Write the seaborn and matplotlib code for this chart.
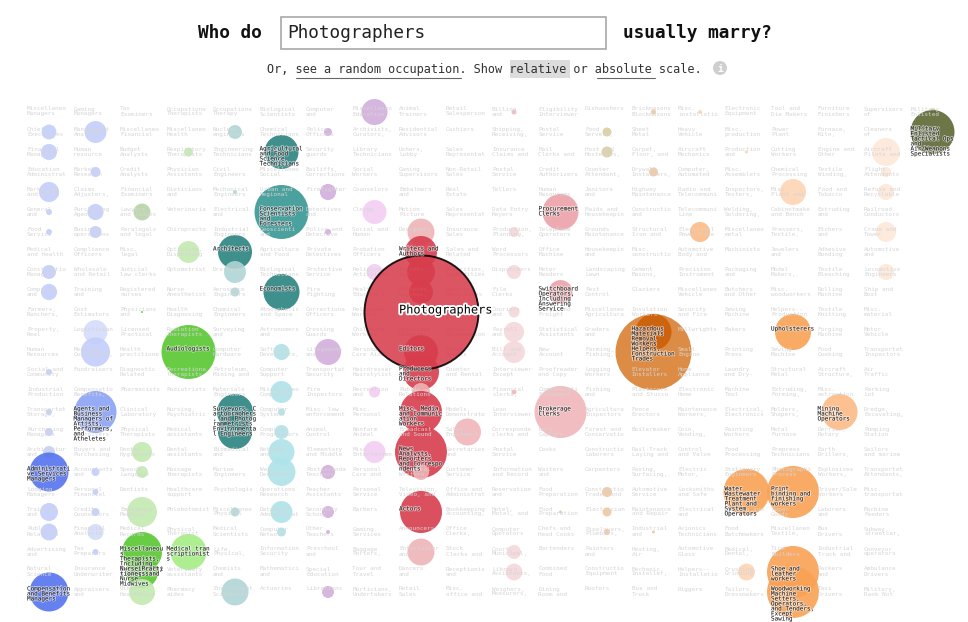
import textwrap
import numpy as np
import pandas as pd
import seaborn as sns
import matplotlib.pyplot as plt
import matplotlib.patheffects as pe
from matplotlib.patches import Rectangle, Circle

# occupation grid, one list per column ("|" splits the two visible lines,
# anything after the second part only keeps keys unique)
col00 = ["Miscellaneo|Managers", "Chief|Executives", "Financial|Managers", "Education|Administrat",
         "Marketing|and Sales", "General|and", "Food|Service", "Medical|and Health", "Constructio|Managers",
         "Computer|and", "Farmers,|Ranchers,", "Property,|Real", "Human|Resources", "Social and|Community",
         "Industrial|Production", "Transportat|Storage,", "Purchasing|Managers", "Architectur|and",
         "Administrative Services Managers", "Lodging|Managers", "Training|and", "Public|Relations",
         "Advertising|and", "Natural|Science", "Compensation and Benefits Managers"]
col01 = ["Gaming|Managers", "Management|Analysts", "Human|resource", "Market|Research", "Claims|Adjusters,",
         "Purchasing|Agents,", "Business|operations", "Compliance|Officers", "Wholesale|and Retail",
         "Training|and", "Cost|Estimators", "Logistician", "Meeting,|Convention,", "Fundraisers",
         "Compensatio|Benefits,",
         "Agents and Business Managers of Artists, Performers, and Atheletes",
         "Insurance|Appraisers", "Buyers and|Purchasing", "Accountants|and", "Personal|Financial",
         "Credit|Counselors", "Financial|Analysts", "Tax|Preparers", "Insurance|Underwriter", "Appraisers|and"]
col02 = ["Tax|Examiners", "Miscellaneo|Financial", "Budget|Analysts", "Credit|Analysts", "Financial|Examiners",
         "Lawyers,|and Judges", "Paralegals|and legal", "Misc.|legal", "Judicial|law clerks",
         "Registered|nurses", "Physicians|and", "Licensed|Practical", "Health|practitione",
         "Diagnostic|Related", "Pharmacists", "Clinical|Laboratory", "Physical|Therapists",
         "Dental|Hygienists", "Speech|Language", "Dentists", "Emergency|Medical", "Medical|Records",
         "Miscellaneous Therapists, Including Exercise Physiologists",
         "Nurse Practitioners and Nurse Midwives", "Other|Healthcare"]
col03 = ["Occupationa|Therapists", "Miscellaneo|Health", "Respiratory|Therapists", "Physician|Assistants",
         "Dieticians|and", "Veterinaria", "Chiropracto", "Opticians,|Dispensing", "Optometrist",
         "Nurse|Anesthetist", "Health|Diagnosing", "Radiation|Therapists", "Audiologists",
         "Recreationa|Therapists", "Podiatrists", "Nursing,|Psychiatric", "Medical|assistants",
         "Dental|assistants", "Massage|therapists", "Healthcare|support", "Phlebotomist",
         "Physical|Therapist", "Medical transcriptionists", "Veterinary|assistants", "Pharmacy|aides"]
col04 = ["Occupationa|Therapy", "Nuclear|engineers", "Engineering|Technicians", "Civil|Engineers",
         "Mechanical|Engineers", "Electrical|and", "Industrial|Engineers", "Architects", "Drafters",
         "Aerospace|Engineers", "Chemical|Engineers", "Surveying|and", "Computer|Hardware",
         "Petroleum,|Mining and", "Materials|Engineers",
         "Surveyors, Cartographers, and Photogrammetrists", "Environmental Engineers",
         "Biomedical|and", "Marine|Engineers", "Psychologis", "Miscellaneo|Physical",
         "Medical|Scientists", "Life,|Physical,", "Chemists|and", "Environment|Scientists"]
col05 = ["Biological|Scientists", "Chemical|Technicians", "Agricultural and Food Science Technicians",
         "Miscellaneo|Social", "Urban and|Regional", "Conservation Scientists and Foresters",
         "Geoscienti|and", "Agricultura|and Food", "Biological|Technicians", "Economists",
         "Atmospheric|and Space", "Astronomers|and", "Software|Developers,", "Computer|Support",
         "Miscellaneo|Computer", "Computer|Systems", "Computer|Programmers", "Network|and",
         "Web|Developers", "Operations|Research", "Database|Administrat", "Computer|Network",
         "Information|Security", "Mathematici|and", "Actuaries"]
col06 = ["Computer|and", "Police|Officers", "Security|guards", "Bailiffs,|Corrections", "Firefighter",
         "Detectives|and", "Police and|Detective", "Private|Detectives", "Protective|Service",
         "Fire|Fighting", "Correctiona|Officers", "Crossing|Guards", "Lifeguards|and",
         "Transportat|Security", "Fire|Inspectors", "Misc. law|enforcement", "Animal|Control",
         "Elementary|and Middle", "Postseconda|Teachers", "Teacher|Assistants", "Secondary|School",
         "Other|Teachers", "Preschool|and", "Special|Education", "Librarians"]
col07 = ["Miscellaneo|Education", "Archivists,|Curators,", "Library|Technicians", "Social|Workers",
         "Counselors", "Clergy", "Social and|Human", "Probation|Officers", "Religious|Activities",
         "Health|Educators", "Religious|Workers", "Childcare|Workers", "Personal|Care Aides",
         "Hairdresser|Hairstylist", "Recreation|and", "Misc.|Personal", "Nonfarm|Animal",
         "Misc.|Entertainme", "Personal|Care and", "Personal|Service", "Barbers", "Gaming|Services",
         "Baggage|Porters,", "Tour and|Travel", "Morticians,|Undertakers"]
col08 = ["Animal|Trainers", "Residential|Advisors", "Ushers,|Lobby", "Gaming|Supervisors", "Embalmers|and",
         "Motion|Picture", "Designers", "Writers and Authors", "Artists|and", "Athletes,|Coaches,",
         "Photographers", "Musicians,|Singers,", "Editors", "Producers and Directors",
         "Public|Relations|Specialists", "Misc. Media and Communication Workers", "Broadcast|and Sound",
         "News Analysts, Reporters and Correspondents", "Technical|Writers", "Television,|Video, and",
         "Actors", "Announcers", "Entertainer|and", "Dancers|and", "Retail|Sales"]
col09 = ["Retail|Salesperson", "Cashiers", "Sales|Representat", "Non-Retail|Sales", "Real|Estate",
         "Sales|Representat", "Insurance|Sales", "Sales and|Related", "Securities,|Commodities",
         "Door-to-|Door Sales", "Advertising|Sales", "Parts|Salesperson", "Travel|Agents",
         "Counter|and Rental", "Telemarkete", "Models,|Demonstrato", "Sales|Engineers",
         "Secretaries|and", "Customer|Service", "Office and|Administrat", "Bookkeeping|Accounting,",
         "Office|Clerks,", "Stock|Clerks and", "Receptionis|and", "Misc.|office and"]
col10 = ["Billing|and", "Shipping,|Receiving,", "Insurance|Claims and", "Postal|Service", "Tellers",
         "Data Entry|Keyers", "Production,|Planning,", "Word|Processors", "Dispatchers", "File|Clerks",
         "Couriers|and", "Payroll|and", "Bill and|Account", "Interviewer|Except", "Financial|clerks,",
         "Loan|Interviewer", "Corresponde|clerks and", "Postal|Service|Mail", "Information|and Record",
         "Reservation|and", "Hotel,|Motel, and", "Computer|Operators", "Court,|Municipal,",
         "Library|Assistants,", "Weighers,|Measurers,"]
col11 = ["Eligibility|Interviewer", "Postal|Service|Clerks", "Mail|Clerks and", "Credit|Authorizers",
         "Human|Resources|Assistants", "Procurement Clerks", "Telephone|Operators", "Office|Machine",
         "Meter|Readers", "Switchboard Operators, Including Answering Service", "Cargo and|Freight",
         "Statistical|Assistants", "New|Account", "Proofreader|and Copy", "Communicati|Equipment",
         "Brokerage Clerks", "Data|Capture", "Cooks", "Waiters|and", "Food|Preparation",
         "Food|Preparation|Workers", "Chefs and|Head Cooks", "Bartenders", "Combined|Food",
         "Dining|Room and"]
col12 = ["Dishwashers", "Food|Servers,", "Host and|Hostesses,", "Counter|Attendant,", "Janitors|and",
         "Maids and|Housekeepin", "Grounds|Maintenance", "Housekeepin|and", "Landscaping|Lawn",
         "Pest|Control", "Miscellaneo|Agricultura", "Graders|and", "Farming,|Fishing,",
         "Logging|Workers", "Fishing|and", "Agricultura|Inspectors", "Forest and|Conservatio",
         "Constructio|Laborers", "Carpenters", "Constructio|Trades and", "Electrician",
         "Pipelayers,|Plumbers,", "Painters|and", "Constructio|Equipment", "Roofers"]
col13 = ["Brickmasons|Blockmasons", "Sheet|Metal", "Carpet,|Floor, and", "Drywall|Installers,",
         "Highway|Maintenance", "Constructio|and", "Structural|Iron and", "Misc.|constructio",
         "Cement|Masons,", "Glaziers", "Insulation|Workers", "Hazardous Materials Removal Workers",
         "Helpers, Construction Trades", "Elevator|Installers", "Plasterers|and Stucco",
         "Fence|Erectors", "Boilermaker", "Rail-Track|Laying and", "Paving,|Surfacing,",
         "Automotive|Service", "Maintenance|and Repair", "Industrial|and", "Heating,|Air",
         "Mechanic,|Installer,", "Bus and|Truck"]
col14 = ["Misc.|installatio", "Heavy|Vehicle", "Aircraft|Mechanics", "Computer,|Automated",
         "Radio and|Telecommuni", "Telecommuni|Line", "Electrical|Power-Line", "Automotive|Body and",
         "Precision|Instrument", "Miscellaneo|Vehicle", "Security|and Fire", "Millwrights",
         "Small|Engine", "Home|Appliance", "Electronic|Home", "Maintenance|Workers,", "Coin,|Vending,",
         "Control|and Valve", "Electric|Motor,", "Locksmiths|and Safe", "Electrical|and|Electronics",
         "Avionics|Technicians", "Automotive|Glass", "Helpers--|Installatio", "Riggers"]
col15 = ["Electronic|Equipment", "Misc.|production", "Production|and", "Misc.|Assemblers",
         "Inspectors,|Testers,", "Welding,|Soldering,", "Miscellaneo|metal", "Machinists",
         "Packaging|and", "Butchers|and Other", "Sewing|Machine", "Bakers", "Printing|Press",
         "Laundry|and Dry-", "Machine|Tool", "Electrical,|Electronics", "Painting|Workers",
         "Food|Processing", "Stationary|Engineers",
         "Water Wastewater Treatment Plant and System Operators", "Cooling and|Freezing",
         "Food|Batchmakers", "Medical,|Dental,", "Crushing,|Grinding", "Tailors,|Dressmakers"]
col16 = ["Tool and|Die Makers", "Power|Plant", "Cutting|Workers", "Chemical|Processing", "Misc.|Plant and",
         "Cabinetmake|and Bench", "Pressers,|Textile,", "Jewelers|and", "Model|Makers,",
         "Misc.|woodworkers", "Helpers--|Production", "Upholsterers", "Sewing|Machine|Operators",
         "Structural|Metal", "Extruding,|Forming,", "Molders,|Shapers,", "Metal|Furnace",
         "Prepress|Technicians", "Photographi|Process", "Print binding and finishing workers",
         "Paper|Goods", "Miscellaneo|Textile,", "Tire|Builders", "Shoe and leather workers",
         "Woodworking Machine Setters, Operators, and Tenders, Except Sawing"]
col17 = ["Furniture|Finishers", "Furnace,|Kiln,", "Engine and|Other", "Textile|Winding,", "Food and|Tobacco",
         "Extruding|and", "Etchers|and", "Adhesive|Bonding", "Textile|Bleaching", "Rolling|Machine",
         "Textile|Knitting", "Forging|Machine", "Food|Cooking", "Aircraft|Structure,",
         "Misc.|extraction", "Mining Machine Operators", "Derrick,|Rotary", "Earth|Drillers,",
         "Explosives|Workers,", "Driver/Sale|Workers", "Laborers|and", "Bus|Drivers",
         "Industrial|Truck and", "Packers|and", "Taxi|Drivers"]
col18 = ["Supervisors|of", "Cleaners|of", "Aircraft|Pilots and", "Flight|Attendants", "Refuse and|Recyclable",
         "Railroad|Conductors", "Crane and|Tower", "Automotive|and", "Locomotive|Engineers",
         "Ship and|Boat", "Misc.|material", "Motor|Vehicle", "Transportat|Inspectors", "Air|Traffic",
         "Parking|Lot", "Dredge,|Excavating,", "Pumping|Station", "Sailors|and marine",
         "Transportat|Attendants,", "Misc.|transportat", "Machine|Feeders", "Subway,|streetcar,",
         "Conveyor|operators", "Ambulance|Drivers", "Military,|Rank Not"]
col19 = ["Military|Enlisted", "Military Enlisted Tactical Ops and Air/Weapons Specialists"]

columns = [col00, col01, col02, col03, col04, col05, col06, col07, col08, col09,
           col10, col11, col12, col13, col14, col15, col16, col17, col18, col19]

selected = "Photographers"

# spouse likelihood (relative scale, Photographers = 100) and shade per circle
management = [
    ("Chief|Executives", 1.7, "light"), ("Financial|Managers", 2.0, "light"),
    ("Marketing|and Sales", 3.1, "light"), ("General|and", 0.28, "light"),
    ("Food|Service", 0.28, "light"), ("Constructio|Managers", 1.5, "light"),
    ("Computer|and", 2.0, "light"), ("Social and|Community", 0.28, "light"),
    ("Transportat|Storage,", 0.28, "light"), ("Purchasing|Managers", 0.49, "light"),
    ("Architectur|and", 1.1, "light"), ("Administrative Services Managers", 11.7, "strong"),
    ("Training|and", 2.5, "light"), ("Public|Relations", 2.2, "light"),
    ("Compensation and Benefits Managers", 11.7, "strong"),
    ("Management|Analysts", 3.7, "light"), ("Market|Research", 0.77, "light"),
    ("Purchasing|Agents,", 2.0, "light"), ("Business|operations", 1.1, "light"),
    ("Logistician", 4.4, "pale"), ("Meeting,|Convention,", 6.5, "light"),
    ("Agents and Business Managers of Artists, Performers, and Atheletes", 13.6, "mid"),
    ("Accountants|and", 0.49, "light"), ("Personal|Financial", 0.28, "light"),
    ("Credit|Counselors", 0.49, "light"), ("Financial|Analysts", 2.0, "pale"),
    ("Tax|Preparers", 0.28, "light"),
]
legal = [("Lawyers,|and Judges", 2.2, "light")]
health = [
    ("Physicians|and", 0.03, "strong"), ("Respiratory|Therapists", 0.62, "light"),
    ("Opticians,|Dispensing", 3.7, "light"), ("Audiologists", 22.4, "strong"),
    ("Dental|Hygienists", 3.1, "light"), ("Speech|Language", 1.1, "light"),
    ("Emergency|Medical", 6.9, "light"),
    ("Miscellaneous Therapists, Including Exercise Physiologists", 12.3, "strong"),
    ("Nurse Practitioners and Nurse Midwives", 7.9, "strong"),
    ("Other|Healthcare", 5.2, "light"), ("Medical transcriptionists", 10.0, "mid"),
]
science = [
    ("Nuclear|engineers", 1.5, "light"), ("Mechanical|Engineers", 0.12, "light"),
    ("Architects", 8.9, "strong"), ("Drafters", 3.7, "light"), ("Aerospace|Engineers", 0.62, "light"),
    ("Surveyors, Cartographers, and Photogrammetrists", 10.0, "strong"),
    ("Environmental Engineers", 8.9, "strong"), ("Miscellaneo|Physical", 0.62, "light"),
    ("Environment|Scientists", 5.6, "light"),
    ("Agricultural and Food Science Technicians", 8.9, "strong"),
    ("Conservation Scientists and Foresters", 22.4, "mid"), ("Economists", 10.0, "strong"),
]
computing = [
    ("Software|Developers,", 2.0, "light"), ("Miscellaneo|Computer", 3.7, "light"),
    ("Computer|Systems", 0.38, "light"), ("Computer|Programmers", 1.5, "light"),
    ("Network|and", 5.2, "light"), ("Web|Developers", 6.0, "light"),
    ("Database|Administrat", 3.7, "light"), ("Computer|Network", 0.62, "light"),
]
civic = [
    ("Police|Officers", 0.49, "light"), ("Firefighter", 2.0, "light"),
    ("Police and|Detective", 0.28, "light"), ("Lifeguards|and", 5.2, "light"),
    ("Postseconda|Teachers", 1.5, "light"), ("Secondary|School", 1.1, "light"),
    ("Other|Teachers", 0.12, "light"), ("Librarians", 1.1, "light"),
    ("Miscellaneo|Education", 5.2, "light"),
]
community = [
    ("Clergy", 4.4, "light"), ("Religious|Activities", 2.0, "light"),
    ("Recreation|and", 0.93, "light"), ("Misc.|Entertainme", 3.7, "light"),
]
arts = [
    ("Designers", 5.6, "light"), ("Writers and Authors", 7.9, "strong"),
    ("Artists|and", 6.0, "strong"), ("Athletes,|Coaches,", 4.4, "strong"),
    ("Editors", 8.9, "strong"), ("Producers and Directors", 10.0, "strong"),
    ("Public|Relations|Specialists", 2.5, "light"),
    ("Misc. Media and Communication Workers", 13.6, "strong"),
    ("News Analysts, Reporters and Correspondents", 20.8, "strong"),
    ("Technical|Writers", 2.0, "light"), ("Actors", 13.6, "strong"),
    ("Entertainer|and", 5.6, "light"), ("Photographers", 100.0, "strong"),
]
office = [
    ("Sales|Engineers", 5.6, "light"), ("Billing|and", 0.19, "light"),
    ("Production,|Planning,", 0.77, "pale"), ("Dispatchers", 1.5, "pale"),
    ("Couriers|and", 0.93, "pale"), ("Payroll|and", 3.1, "pale"),
    ("Bill and|Account", 3.7, "pale"), ("Financial|clerks,", 0.19, "light"),
    ("Court,|Municipal,", 1.5, "pale"), ("Library|Assistants,", 2.2, "pale"),
    ("Procurement Clerks", 10.0, "strong"),
    ("Switchboard Operators, Including Answering Service", 4.4, "strong"),
    ("Brokerage Clerks", 20.8, "light"),
]
food = [
    ("Food|Preparation|Workers", 0.07, "light"), ("Food|Servers,", 0.62, "light"),
    ("Host and|Hostesses,", 0.93, "light"),
]
construction = [
    ("Constructio|Trades and", 0.77, "light"), ("Electrician", 0.62, "light"),
    ("Pipelayers,|Plumbers,", 0.28, "light"), ("Brickmasons|Blockmasons", 0.19, "light"),
    ("Drywall|Installers,", 0.62, "light"), ("Industrial|and", 0.07, "light"),
    ("Helpers, Construction Trades", 44.4, "mid"),
    ("Hazardous Materials Removal Workers", 10.0, "strong"),
]
production = [
    ("Misc.|installatio", 0.12, "light"), ("Electrical|Power-Line", 3.1, "mid"),
    ("Production|and", 0.07, "light"),
    ("Water Wastewater Treatment Plant and System Operators", 16.3, "strong"),
    ("Crushing,|Grinding", 2.2, "light"), ("Misc.|Plant and", 5.2, "light"),
    ("Upholsterers", 10.0, "strong"), ("Print binding and finishing workers", 20.8, "strong"),
    ("Shoe and leather workers", 20.8, "strong"),
    ("Woodworking Machine Setters, Operators, and Tenders, Except Sawing", 20.8, "strong"),
    ("Mining Machine Operators", 10.0, "mid"),
]
transport = [
    ("Aircraft|Pilots and", 6.0, "light"), ("Flight|Attendants", 0.77, "light"),
    ("Refuse and|Recyclable", 2.0, "light"), ("Crane and|Tower", 3.1, "light"),
    ("Locomotive|Engineers", 2.0, "light"),
]
military = [
    ("Military|Enlisted", 0.38, "light"),
    ("Military Enlisted Tactical Ops and Air/Weapons Specialists", 14.9, "strong"),
]

highlighted = [
    "Administrative Services Managers", "Compensation and Benefits Managers",
    "Agents and Business Managers of Artists, Performers, and Atheletes",
    "Miscellaneous Therapists, Including Exercise Physiologists",
    "Nurse Practitioners and Nurse Midwives", "Audiologists", "Medical transcriptionists",
    "Architects", "Surveyors, Cartographers, and Photogrammetrists", "Environmental Engineers",
    "Agricultural and Food Science Technicians", "Conservation Scientists and Foresters",
    "Economists", "Writers and Authors", "Editors", "Producers and Directors",
    "Misc. Media and Communication Workers", "News Analysts, Reporters and Correspondents",
    "Actors", "Procurement Clerks", "Switchboard Operators, Including Answering Service",
    "Brokerage Clerks", "Hazardous Materials Removal Workers", "Helpers, Construction Trades",
    "Water Wastewater Treatment Plant and System Operators", "Upholsterers",
    "Print binding and finishing workers", "Shoe and leather workers",
    "Woodworking Machine Setters, Operators, and Tenders, Except Sawing",
    "Mining Machine Operators",
    "Military Enlisted Tactical Ops and Air/Weapons Specialists",
]

palette = {
    "mgmt:pale": "#d3dcfb", "mgmt:light": "#c3cefa", "mgmt:mid": "#8aa2f4", "mgmt:strong": "#5373ee",
    "legal:light": "#b6d3a6",
    "health:light": "#c2e9b1", "health:mid": "#a3ed84", "health:strong": "#58c731",
    "sci:light": "#b1d5d6", "sci:mid": "#379794", "sci:strong": "#2a8381",
    "comp:light": "#ade3e9",
    "civic:light": "#d2addc",
    "comm:light": "#f3cdf3",
    "arts:light": "#efb4b8", "arts:strong": "#d83d4c",
    "office:pale": "#f6d8db", "office:light": "#f0b6bb", "office:strong": "#eba2a9",
    "food:light": "#d9cfa0",
    "constr:light": "#eec7a1", "constr:mid": "#d98030", "constr:strong": "#cc5e0a",
    "prod:light": "#fdd4b3", "prod:mid": "#fcba85", "prod:strong": "#f9a255",
    "trans:light": "#fde8da",
    "mil:light": "#bebeb4", "mil:strong": "#5c6732",
}
groups = {"mgmt": management, "legal": legal, "health": health, "sci": science,
          "comp": computing, "civic": civic, "comm": community, "arts": arts,
          "office": office, "food": food, "constr": construction, "prod": production,
          "trans": transport, "mil": military}

slot = {}
for c, col in enumerate(columns):
    for r, lab in enumerate(col):
        slot.setdefault(lab, (c, r))

recs = []
for g, items in groups.items():
    for lab, val, tone in items:
        c, r = slot[lab]
        recs.append({"label": lab, "col": c, "row": r, "value": val, "shade": f"{g}:{tone}"})
df = pd.DataFrame(recs)

sns.set_theme(style="white")
plt.rcParams["font.family"] = ["DejaVu Sans Mono", "DejaVu Sans"]

fig = plt.figure(figsize=(9.68, 6.22), dpi=100)
ax = fig.add_axes([0, 0, 1, 1])
step_x, step_y = 46.5, 20.0
ax.set_xlim(-49 / step_x, (968 - 49) / step_x)
ax.set_ylim((622 - 112) / step_y, -112 / step_y)
ax.axis("off")

# marker area proportional to value; Photographers (100) gets a 57px radius
vmax = 100.0
smax = (2 * 57 * 0.72) ** 2
size_kw = dict(size="value", sizes=(0, smax), size_norm=(0, vmax),
               hue="shade", palette=palette, legend=False, ax=ax)
others = df[df.label != selected]
sns.scatterplot(data=others, x="col", y="row", alpha=0.9, linewidth=0, zorder=2, **size_kw)
sns.scatterplot(data=df[df.label == selected], x="col", y="row", alpha=0.88,
                edgecolor="black", linewidth=1.4, zorder=4, **size_kw)

dx = 22 / step_x
dy = 5.5 / step_y
halo = [pe.withStroke(linewidth=1.2, foreground="white", alpha=0.55)]
for c, col in enumerate(columns):
    for r, lab in enumerate(col):
        if lab == selected:
            ax.text(c - dx, r - 0.1, lab, fontsize=8.6, color="black", va="center", ha="left",
                    zorder=7, path_effects=[pe.withStroke(linewidth=2.6, foreground="white")])
        elif lab in highlighted:
            ax.text(c - dx, r - dy, textwrap.fill(lab, 12), fontsize=4.3, color="#1c1c1c",
                    va="top", ha="left", linespacing=1.0, zorder=6, path_effects=halo)
        else:
            ax.text(c - dx, r - dy, "\n".join(lab.split("|")[:2]), fontsize=4.3, color="#d5d5d5",
                    va="top", ha="left", linespacing=1.0, zorder=3)

# header
hx = fig.add_axes([0, 0, 1, 1], zorder=10)
hx.set_xlim(0, 968)
hx.set_ylim(622, 0)
hx.axis("off")
hx.text(198, 33, "Who do", fontsize=12.8, fontweight="bold", va="center", ha="left", color="#111111")
hx.add_patch(Rectangle((281, 17), 325, 32, fill=False, ec="#a8a8a8", lw=1.2))
hx.text(287, 33, selected, fontsize=12.8, va="center", ha="left", color="#222222")
hx.text(623, 33, "usually marry?", fontsize=12.8, fontweight="bold", va="center", ha="left",
        color="#111111")

sub = "Or, see a random occupation. Show relative or absolute scale."
cw = 7.18
sx = 267
i_rel = sub.index("relative")
hx.add_patch(Rectangle((sx + i_rel * cw - 1, 60), 8 * cw + 2, 18, color="#dcdcdc", lw=0, zorder=1))
hx.text(sx, 69, sub, fontsize=8.6, va="center", ha="left", color="#333333", zorder=2)
for word in ["see a random occupation", "absolute"]:
    i = sub.index(word)
    hx.plot([sx + i * cw, sx + (i + len(word)) * cw], [77.5, 77.5], color="#666666", lw=0.8)
hx.add_patch(Circle((720, 68), 7, color="#cfcfcf", lw=0))
hx.text(720, 68.5, "i", fontsize=7, fontweight="bold", color="white", ha="center", va="center")

fig.savefig("out.png", dpi=100)
